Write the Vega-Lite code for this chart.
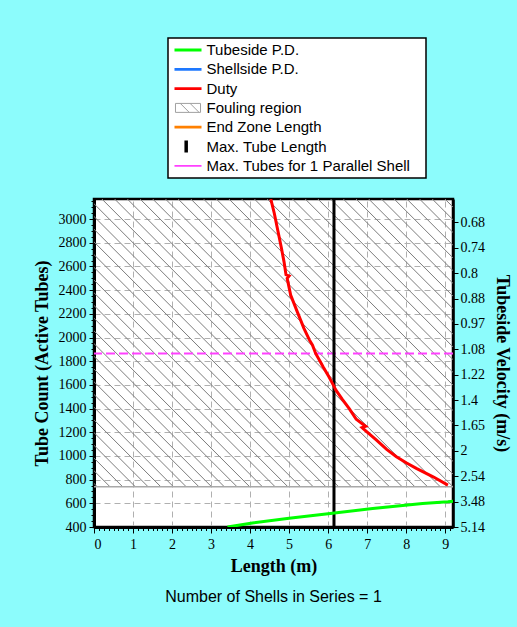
{
  "$schema": "https://vega.github.io/schema/vega-lite/v6.json",
  "width": 359,
  "height": 328,
  "autosize": {"type": "none"},
  "padding": {"left": 94, "top": 199, "right": 64, "bottom": 100},
  "background": "#8cfcfc",
  "view": {"fill": "#ffffff", "stroke": "#000000", "strokeWidth": 2.5},
  "title": {
    "text": "Number of Shells in Series = 1",
    "orient": "bottom",
    "anchor": "middle",
    "frame": "group",
    "font": "Liberation Sans",
    "fontSize": 16,
    "fontWeight": "normal",
    "color": "#000000",
    "offset": 14
  },
  "config": {
    "axis": {
      "labelFont": "Liberation Serif",
      "labelFontSize": 14,
      "labelColor": "#000000",
      "tickColor": "#000000",
      "domainColor": "#000000",
      "titleFont": "Liberation Serif",
      "titleFontSize": 18,
      "titleFontWeight": "bold",
      "titleColor": "#000000"
    }
  },
  "datasets": {
    "limits": [
      {"max_tube_length": 6.15, "max_tubes_parallel": 1866, "fouling_min": 740, "fouling_max": 3170}
    ],
    "curves": [
      {"series": "Duty", "length": 4.53, "tubes": 3170},
      {"series": "Duty", "length": 4.62, "tubes": 3050},
      {"series": "Duty", "length": 4.70, "tubes": 2921},
      {"series": "Duty", "length": 4.80, "tubes": 2760},
      {"series": "Duty", "length": 4.87, "tubes": 2639},
      {"series": "Duty", "length": 4.92, "tubes": 2530},
      {"series": "Duty", "length": 5.00, "tubes": 2520},
      {"series": "Duty", "length": 4.95, "tubes": 2500},
      {"series": "Duty", "length": 5.04, "tubes": 2358},
      {"series": "Duty", "length": 5.21, "tubes": 2217},
      {"series": "Duty", "length": 5.38, "tubes": 2077},
      {"series": "Duty", "length": 5.52, "tubes": 1980},
      {"series": "Duty", "length": 5.60, "tubes": 1936},
      {"series": "Duty", "length": 5.68, "tubes": 1866},
      {"series": "Duty", "length": 5.80, "tubes": 1795},
      {"series": "Duty", "length": 5.87, "tubes": 1753},
      {"series": "Duty", "length": 6.02, "tubes": 1669},
      {"series": "Duty", "length": 6.11, "tubes": 1613},
      {"series": "Duty", "length": 6.20, "tubes": 1556},
      {"series": "Duty", "length": 6.36, "tubes": 1480},
      {"series": "Duty", "length": 6.55, "tubes": 1395},
      {"series": "Duty", "length": 6.72, "tubes": 1310},
      {"series": "Duty", "length": 6.96, "tubes": 1250},
      {"series": "Duty", "length": 6.87, "tubes": 1240},
      {"series": "Duty", "length": 6.92, "tubes": 1225},
      {"series": "Duty", "length": 7.24, "tubes": 1134},
      {"series": "Duty", "length": 7.50, "tubes": 1055},
      {"series": "Duty", "length": 7.75, "tubes": 993},
      {"series": "Duty", "length": 8.00, "tubes": 942},
      {"series": "Duty", "length": 8.26, "tubes": 895},
      {"series": "Duty", "length": 8.69, "tubes": 824},
      {"series": "Duty", "length": 9.07, "tubes": 754},
      {"series": "Tubeside P.D.", "length": 3.42, "tubes": 400},
      {"series": "Tubeside P.D.", "length": 4.06, "tubes": 434},
      {"series": "Tubeside P.D.", "length": 5.00, "tubes": 474},
      {"series": "Tubeside P.D.", "length": 6.11, "tubes": 516},
      {"series": "Tubeside P.D.", "length": 7.14, "tubes": 556},
      {"series": "Tubeside P.D.", "length": 8.42, "tubes": 598},
      {"series": "Tubeside P.D.", "length": 9.07, "tubes": 613},
      {"series": "Tubeside P.D.", "length": 9.20, "tubes": 617}
    ]
  },
  "layer": [
    {
      "data": {"name": "limits"},
      "mark": {
        "type": "rect",
        "fill": {
          "gradient": "linear",
          "x1": 0, "y1": 1, "x2": 1.1, "y2": 0.119,
          "stops": [
            {"offset": 0.0034, "color": "rgba(128,128,128,0)"}, {"offset": 0.005, "color": "#808080"}, {"offset": 0.0066, "color": "rgba(128,128,128,0)"},
            {"offset": 0.023, "color": "rgba(128,128,128,0)"}, {"offset": 0.0246, "color": "#808080"}, {"offset": 0.0262, "color": "rgba(128,128,128,0)"},
            {"offset": 0.0426, "color": "rgba(128,128,128,0)"}, {"offset": 0.0442, "color": "#808080"}, {"offset": 0.0458, "color": "rgba(128,128,128,0)"},
            {"offset": 0.0622, "color": "rgba(128,128,128,0)"}, {"offset": 0.0638, "color": "#808080"}, {"offset": 0.0654, "color": "rgba(128,128,128,0)"},
            {"offset": 0.0818, "color": "rgba(128,128,128,0)"}, {"offset": 0.0834, "color": "#808080"}, {"offset": 0.085, "color": "rgba(128,128,128,0)"},
            {"offset": 0.1014, "color": "rgba(128,128,128,0)"}, {"offset": 0.103, "color": "#808080"}, {"offset": 0.1046, "color": "rgba(128,128,128,0)"},
            {"offset": 0.121, "color": "rgba(128,128,128,0)"}, {"offset": 0.1226, "color": "#808080"}, {"offset": 0.1242, "color": "rgba(128,128,128,0)"},
            {"offset": 0.1406, "color": "rgba(128,128,128,0)"}, {"offset": 0.1422, "color": "#808080"}, {"offset": 0.1438, "color": "rgba(128,128,128,0)"},
            {"offset": 0.1602, "color": "rgba(128,128,128,0)"}, {"offset": 0.1618, "color": "#808080"}, {"offset": 0.1634, "color": "rgba(128,128,128,0)"},
            {"offset": 0.1798, "color": "rgba(128,128,128,0)"}, {"offset": 0.1814, "color": "#808080"}, {"offset": 0.183, "color": "rgba(128,128,128,0)"},
            {"offset": 0.1994, "color": "rgba(128,128,128,0)"}, {"offset": 0.201, "color": "#808080"}, {"offset": 0.2026, "color": "rgba(128,128,128,0)"},
            {"offset": 0.219, "color": "rgba(128,128,128,0)"}, {"offset": 0.2206, "color": "#808080"}, {"offset": 0.2222, "color": "rgba(128,128,128,0)"},
            {"offset": 0.2386, "color": "rgba(128,128,128,0)"}, {"offset": 0.2402, "color": "#808080"}, {"offset": 0.2418, "color": "rgba(128,128,128,0)"},
            {"offset": 0.2582, "color": "rgba(128,128,128,0)"}, {"offset": 0.2598, "color": "#808080"}, {"offset": 0.2614, "color": "rgba(128,128,128,0)"},
            {"offset": 0.2778, "color": "rgba(128,128,128,0)"}, {"offset": 0.2794, "color": "#808080"}, {"offset": 0.281, "color": "rgba(128,128,128,0)"},
            {"offset": 0.2974, "color": "rgba(128,128,128,0)"}, {"offset": 0.299, "color": "#808080"}, {"offset": 0.3006, "color": "rgba(128,128,128,0)"},
            {"offset": 0.317, "color": "rgba(128,128,128,0)"}, {"offset": 0.3186, "color": "#808080"}, {"offset": 0.3202, "color": "rgba(128,128,128,0)"},
            {"offset": 0.3366, "color": "rgba(128,128,128,0)"}, {"offset": 0.3382, "color": "#808080"}, {"offset": 0.3398, "color": "rgba(128,128,128,0)"},
            {"offset": 0.3562, "color": "rgba(128,128,128,0)"}, {"offset": 0.3578, "color": "#808080"}, {"offset": 0.3594, "color": "rgba(128,128,128,0)"},
            {"offset": 0.3758, "color": "rgba(128,128,128,0)"}, {"offset": 0.3774, "color": "#808080"}, {"offset": 0.379, "color": "rgba(128,128,128,0)"},
            {"offset": 0.3954, "color": "rgba(128,128,128,0)"}, {"offset": 0.397, "color": "#808080"}, {"offset": 0.3986, "color": "rgba(128,128,128,0)"},
            {"offset": 0.415, "color": "rgba(128,128,128,0)"}, {"offset": 0.4166, "color": "#808080"}, {"offset": 0.4182, "color": "rgba(128,128,128,0)"},
            {"offset": 0.4346, "color": "rgba(128,128,128,0)"}, {"offset": 0.4362, "color": "#808080"}, {"offset": 0.4378, "color": "rgba(128,128,128,0)"},
            {"offset": 0.4542, "color": "rgba(128,128,128,0)"}, {"offset": 0.4558, "color": "#808080"}, {"offset": 0.4574, "color": "rgba(128,128,128,0)"},
            {"offset": 0.4738, "color": "rgba(128,128,128,0)"}, {"offset": 0.4754, "color": "#808080"}, {"offset": 0.477, "color": "rgba(128,128,128,0)"},
            {"offset": 0.4934, "color": "rgba(128,128,128,0)"}, {"offset": 0.495, "color": "#808080"}, {"offset": 0.4966, "color": "rgba(128,128,128,0)"},
            {"offset": 0.513, "color": "rgba(128,128,128,0)"}, {"offset": 0.5146, "color": "#808080"}, {"offset": 0.5162, "color": "rgba(128,128,128,0)"},
            {"offset": 0.5326, "color": "rgba(128,128,128,0)"}, {"offset": 0.5342, "color": "#808080"}, {"offset": 0.5358, "color": "rgba(128,128,128,0)"},
            {"offset": 0.5522, "color": "rgba(128,128,128,0)"}, {"offset": 0.5538, "color": "#808080"}, {"offset": 0.5554, "color": "rgba(128,128,128,0)"},
            {"offset": 0.5718, "color": "rgba(128,128,128,0)"}, {"offset": 0.5734, "color": "#808080"}, {"offset": 0.575, "color": "rgba(128,128,128,0)"},
            {"offset": 0.5914, "color": "rgba(128,128,128,0)"}, {"offset": 0.593, "color": "#808080"}, {"offset": 0.5946, "color": "rgba(128,128,128,0)"},
            {"offset": 0.611, "color": "rgba(128,128,128,0)"}, {"offset": 0.6126, "color": "#808080"}, {"offset": 0.6142, "color": "rgba(128,128,128,0)"},
            {"offset": 0.6306, "color": "rgba(128,128,128,0)"}, {"offset": 0.6322, "color": "#808080"}, {"offset": 0.6338, "color": "rgba(128,128,128,0)"},
            {"offset": 0.6502, "color": "rgba(128,128,128,0)"}, {"offset": 0.6518, "color": "#808080"}, {"offset": 0.6534, "color": "rgba(128,128,128,0)"},
            {"offset": 0.6698, "color": "rgba(128,128,128,0)"}, {"offset": 0.6714, "color": "#808080"}, {"offset": 0.673, "color": "rgba(128,128,128,0)"},
            {"offset": 0.6894, "color": "rgba(128,128,128,0)"}, {"offset": 0.691, "color": "#808080"}, {"offset": 0.6926, "color": "rgba(128,128,128,0)"},
            {"offset": 0.709, "color": "rgba(128,128,128,0)"}, {"offset": 0.7106, "color": "#808080"}, {"offset": 0.7122, "color": "rgba(128,128,128,0)"},
            {"offset": 0.7286, "color": "rgba(128,128,128,0)"}, {"offset": 0.7302, "color": "#808080"}, {"offset": 0.7318, "color": "rgba(128,128,128,0)"},
            {"offset": 0.7482, "color": "rgba(128,128,128,0)"}, {"offset": 0.7498, "color": "#808080"}, {"offset": 0.7514, "color": "rgba(128,128,128,0)"},
            {"offset": 0.7678, "color": "rgba(128,128,128,0)"}, {"offset": 0.7694, "color": "#808080"}, {"offset": 0.771, "color": "rgba(128,128,128,0)"},
            {"offset": 0.7874, "color": "rgba(128,128,128,0)"}, {"offset": 0.789, "color": "#808080"}, {"offset": 0.7906, "color": "rgba(128,128,128,0)"},
            {"offset": 0.807, "color": "rgba(128,128,128,0)"}, {"offset": 0.8086, "color": "#808080"}, {"offset": 0.8102, "color": "rgba(128,128,128,0)"},
            {"offset": 0.8266, "color": "rgba(128,128,128,0)"}, {"offset": 0.8282, "color": "#808080"}, {"offset": 0.8298, "color": "rgba(128,128,128,0)"},
            {"offset": 0.8462, "color": "rgba(128,128,128,0)"}, {"offset": 0.8478, "color": "#808080"}, {"offset": 0.8494, "color": "rgba(128,128,128,0)"},
            {"offset": 0.8658, "color": "rgba(128,128,128,0)"}, {"offset": 0.8674, "color": "#808080"}, {"offset": 0.869, "color": "rgba(128,128,128,0)"},
            {"offset": 0.8854, "color": "rgba(128,128,128,0)"}, {"offset": 0.887, "color": "#808080"}, {"offset": 0.8886, "color": "rgba(128,128,128,0)"},
            {"offset": 0.905, "color": "rgba(128,128,128,0)"}, {"offset": 0.9066, "color": "#808080"}, {"offset": 0.9082, "color": "rgba(128,128,128,0)"},
            {"offset": 0.9246, "color": "rgba(128,128,128,0)"}, {"offset": 0.9262, "color": "#808080"}, {"offset": 0.9278, "color": "rgba(128,128,128,0)"},
            {"offset": 0.9442, "color": "rgba(128,128,128,0)"}, {"offset": 0.9458, "color": "#808080"}, {"offset": 0.9474, "color": "rgba(128,128,128,0)"},
            {"offset": 0.9638, "color": "rgba(128,128,128,0)"}, {"offset": 0.9654, "color": "#808080"}, {"offset": 0.967, "color": "rgba(128,128,128,0)"},
            {"offset": 0.9834, "color": "rgba(128,128,128,0)"}, {"offset": 0.985, "color": "#808080"}, {"offset": 0.9866, "color": "rgba(128,128,128,0)"}
          ]
        }
      },
      "encoding": {
        "y": {
          "field": "fouling_min", "type": "quantitative",
          "scale": {"domain": [400, 3170], "nice": false, "zero": false},
          "axis": {
            "orient": "left",
            "values": [400, 600, 800, 1000, 1200, 1400, 1600, 1800, 2000, 2200, 2400, 2600, 2800, 3000],
            "format": "d",
            "grid": true, "gridDash": [6, 4], "gridColor": "#b0b0b0", "gridWidth": 1,
            "domainWidth": 3, "tickSize": 5, "tickWidth": 1, "labelPadding": 3,
            "title": "Tube Count (Active Tubes)", "titlePadding": 7
          }
        },
        "y2": {"field": "fouling_max"}
      }
    },
    {
      "data": {"name": "limits"},
      "mark": {"type": "rule", "color": "#a8a8a8", "strokeWidth": 1.5},
      "encoding": {
        "y": {
          "field": "fouling_min", "type": "quantitative",
          "scale": {"domain": [400, 3170], "nice": false, "zero": false},
          "axis": {
            "orient": "left", "tickCount": 55, "labels": false, "domain": false,
            "grid": false, "tickSize": 3, "title": null
          }
        }
      }
    },
    {
      "data": {"name": "limits"},
      "mark": {"type": "rule", "color": "#ff40ff", "strokeWidth": 2, "strokeDash": [9, 4]},
      "encoding": {
        "y": {
          "field": "max_tubes_parallel", "type": "quantitative",
          "scale": {"domain": [400, 3170], "nice": false, "zero": false},
          "axis": {
            "orient": "right",
            "values": [400, 614.4, 828.8, 1043.3, 1257.7, 1472.1, 1686.5, 1900.9, 2115.3, 2329.7, 2544.2, 2758.6, 2973],
            "labelExpr": "['5.14','3.48','2.54','2','1.65','1.4','1.22','1.08','0.97','0.88','0.8','0.74','0.68'][round((datum.value - 400) / 214.4)]",
            "grid": false, "domainWidth": 2.5, "tickSize": 5, "labelPadding": 2,
            "title": "Tubeside Velocity (m/s)", "titlePadding": 8
          }
        }
      }
    },
    {
      "data": {"name": "limits"},
      "mark": {"type": "rule", "color": "#000000", "strokeWidth": 3},
      "encoding": {
        "x": {
          "field": "max_tube_length", "type": "quantitative",
          "scale": {"domain": [0, 9.2], "nice": false, "zero": false},
          "axis": {
            "orient": "bottom",
            "values": [0, 1, 2, 3, 4, 5, 6, 7, 8, 9],
            "grid": true, "gridDash": [6, 4], "gridColor": "#b0b0b0", "gridWidth": 1,
            "domainWidth": 3, "tickSize": 6, "tickWidth": 1, "labelPadding": 4,
            "title": "Length (m)", "titlePadding": 6
          }
        }
      }
    },
    {
      "data": {"name": "curves"},
      "mark": {"type": "line", "strokeWidth": 3, "clip": true},
      "encoding": {
        "x": {
          "field": "length", "type": "quantitative",
          "scale": {"domain": [0, 9.2], "nice": false, "zero": false},
          "axis": {
            "orient": "bottom",
            "values": [0.125, 0.25, 0.375, 0.5, 0.625, 0.75, 0.875, 1.125, 1.25, 1.375, 1.5, 1.625, 1.75, 1.875, 2.125, 2.25, 2.375, 2.5, 2.625, 2.75, 2.875, 3.125, 3.25, 3.375, 3.5, 3.625, 3.75, 3.875, 4.125, 4.25, 4.375, 4.5, 4.625, 4.75, 4.875, 5.125, 5.25, 5.375, 5.5, 5.625, 5.75, 5.875, 6.125, 6.25, 6.375, 6.5, 6.625, 6.75, 6.875, 7.125, 7.25, 7.375, 7.5, 7.625, 7.75, 7.875, 8.125, 8.25, 8.375, 8.5, 8.625, 8.75, 8.875, 9.125],
            "labels": false, "domain": false, "grid": false, "tickSize": 3.5, "title": null
          }
        },
        "y": {
          "field": "tubes", "type": "quantitative",
          "scale": {"domain": [400, 3170], "nice": false, "zero": false},
          "axis": null
        },
        "color": {
          "field": "series", "type": "nominal",
          "scale": {
            "domain": ["Tubeside P.D.", "Shellside P.D.", "Duty", "Fouling region", "End Zone Length", "Max. Tube Length", "Max. Tubes for 1 Parallel Shell"],
            "range": ["#00ff00", "#1e78ff", "#ff0000", "#a0a0a0", "#ff8000", "#000000", "#ff40ff"]
          },
          "legend": {
            "orient": "none", "legendX": 74, "legendY": -161,
            "title": ".",
            "titleOrient": "right",
            "titleColor": "#ffffff",
            "titleFontSize": 10,
            "titlePadding": 9,
            "fillColor": "#ffffff", "strokeColor": "#000000",
            "padding": 3.5,
            "symbolSize": 196, "symbolOffset": 9, "symbolStrokeWidth": 2.8,
            "labelOffset": 11, "labelFont": "Liberation Sans", "labelFontSize": 15, "labelColor": "#000000",
            "labelLimit": 400,
            "clipHeight": 17,
            "rowPadding": 2.3,
            "encode": {
              "symbols": {
                "update": {
                  "shape": {"signal": "datum.value === 'Fouling region' ? 'M-1.79,-0.64L1.79,-0.64L1.79,0.64L-1.79,0.64Z M-1.1,-0.64L0.18,0.64 M0.3,-0.64L1.58,0.64' : datum.value === 'Max. Tube Length' ? 'M-0.26,-0.86L-0.26,0.86' : 'M-1.93,0L1.93,0'"},
                  "strokeWidth": {"signal": "datum.value === 'Fouling region' ? 1 : datum.value === 'Max. Tube Length' ? 3.5 : datum.value === 'Max. Tubes for 1 Parallel Shell' ? 1.8 : 2.8"},
                  "fill": {"value": "transparent"}
                }
              },
              "legend": {"update": {"strokeWidth": {"value": 1.5}}}
            }
          }
        },
        "order": {"field": "tubes", "sort": "descending"}
      }
    }
  ],
  "resolve": {"axis": {"x": "independent", "y": "independent"}}
}
